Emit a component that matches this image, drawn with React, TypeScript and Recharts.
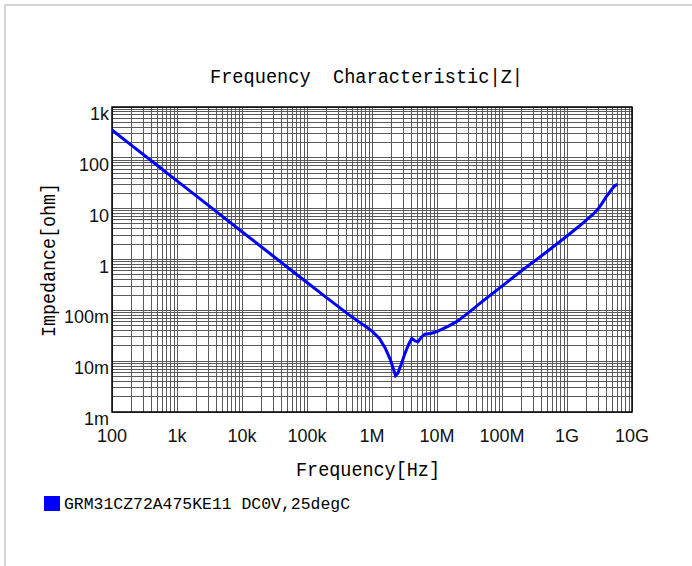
import { LineChart, Line, XAxis, YAxis, CartesianGrid, ReferenceArea } from "recharts";

// |Z| curve (Hz, ohm)
const freqHz = [
  100, 200, 500, 1e3, 2e3, 5e3, 1e4, 2e4, 5e4, 1e5, 2e5, 4e5, 6e5, 8e5, 1e6,
  1.3e6, 1.6e6, 1.9e6, 2.1e6, 2.3e6, 2.5e6, 2.8e6, 3.2e6, 3.7e6, 4.1e6, 4.6e6,
  5.1e6, 5.8e6, 6.5e6, 8e6, 1e7, 1.5e7, 2e7, 3e7, 5e7, 1e8, 2e8, 5e8, 1e9,
  1.5e9, 2e9, 2.5e9, 3e9, 3.5e9, 4e9, 4.5e9, 5e9, 5.5e9, 6e9,
];
const impedanceOhm = [
  352, 176, 70.5, 35.2, 17.6, 7.05, 3.52, 1.76, 0.705, 0.352, 0.178, 0.09,
  0.062, 0.048, 0.039, 0.028, 0.018, 0.011, 0.0075, 0.0052, 0.0058, 0.0085,
  0.014, 0.022, 0.028, 0.025, 0.024, 0.03, 0.034, 0.035, 0.038, 0.049, 0.06,
  0.088, 0.15, 0.3, 0.6, 1.45, 2.9, 4.4, 6.0, 7.7, 9.8, 13, 17, 21, 25, 28.5, 30,
];

const xDecades = [1e2, 1e3, 1e4, 1e5, 1e6, 1e7, 1e8, 1e9, 1e10];
const xLabels = ["100", "1k", "10k", "100k", "1M", "10M", "100M", "1G", "10G"];
const yDecades = [1e-3, 1e-2, 1e-1, 1, 10, 100, 1e3];
const yLabels = ["1m", "10m", "100m", "1", "10", "100", "1k"];

const seriesName = "GRM31CZ72A475KE11 DC0V,25degC";

// grid values: 1..9 x each decade
function minorTicks(decades: number[]) {
  const out: number[] = [];
  decades.forEach((d, i) => {
    if (i === decades.length - 1) {
      out.push(d);
      return;
    }
    for (let m = 1; m <= 9; m++) out.push(d * m);
  });
  return out;
}

const data = freqHz.map((f, i) => ({ f, z: impedanceOhm[i] }));

function labelFor(value: number, decades: number[], labels: string[]) {
  const idx = decades.findIndex((d) => Math.abs(Math.log10(d) - Math.log10(value)) < 1e-6);
  return idx >= 0 ? labels[idx] : null;
}

const tickFont = "'Liberation Sans', Arial, sans-serif";
const monoFont = "'Liberation Mono', 'DejaVu Sans Mono', monospace";

function XTick(props: any) {
  const { x, y, payload } = props;
  const text = labelFor(payload.value, xDecades, xLabels);
  if (!text) return <g />;
  return (
    <text x={x} y={y + 22} textAnchor="middle" fontFamily={tickFont} fontSize={18} fill="#111">
      {text}
    </text>
  );
}

function YTick(props: any) {
  const { y, payload } = props;
  const text = labelFor(payload.value, yDecades, yLabels);
  if (!text) return <g />;
  return (
    <text x={109} y={y + 13} textAnchor="end" fontFamily={tickFont} fontSize={18} fill="#111">
      {text}
    </text>
  );
}

export default function App() {
  return (
    <div
      style={{
        position: "absolute",
        left: 0,
        top: 0,
        width: 692,
        height: 566,
        overflow: "hidden",
        background: "#fff",
      }}
    >
      <style>{".recharts-cartesian-grid line { shape-rendering: crispEdges; }"}</style>
      <div
        style={{
          position: "absolute",
          left: 4,
          top: 4,
          width: 720,
          height: 600,
          border: "2px solid #d4d6d9",
        }}
      />
      <div style={{ position: "absolute", left: 0, top: 0 }}>
        <LineChart
          width={692}
          height={566}
          data={data}
          margin={{ top: 107, right: 60, bottom: 124, left: 52 }}
        >
          <CartesianGrid stroke="#5a5a5a" strokeWidth={1} fill="#fff" />
          <XAxis
            dataKey="f"
            type="number"
            scale="log"
            domain={[1e2, 1e10]}
            ticks={minorTicks(xDecades)}
            tick={<XTick />}
            tickLine={false}
            axisLine={false}
            height={30}
            allowDataOverflow
            interval={0}
          />
          <YAxis
            dataKey="z"
            type="number"
            scale="log"
            domain={[1e-3, 1e3]}
            ticks={minorTicks(yDecades)}
            tick={<YTick />}
            tickLine={false}
            axisLine={false}
            width={60}
            allowDataOverflow
            interval={0}
          />
          <ReferenceArea
            x1={1e2}
            x2={1e10}
            y1={1e-3}
            y2={1e3}
            fill="none"
            stroke="#000"
            strokeWidth={1.5}
            ifOverflow="visible"
          />
          <Line
            type="linear"
            dataKey="z"
            stroke="#0000ff"
            strokeWidth={3}
            dot={false}
            isAnimationActive={false}
          />
        </LineChart>
      </div>
      <svg
        width={692}
        height={566}
        style={{ position: "absolute", left: 0, top: 0, pointerEvents: "none" }}
      >
        <text
          x={210}
          y={83}
          fontFamily={monoFont}
          fontSize={20}
          textLength={313}
          lengthAdjust="spacingAndGlyphs"
          style={{ whiteSpace: "pre" }}
          fill="#000"
        >
          {"Frequency  Characteristic|Z|"}
        </text>
        <text
          x={296}
          y={476}
          fontFamily={monoFont}
          fontSize={20}
          textLength={144}
          lengthAdjust="spacingAndGlyphs"
          fill="#000"
        >
          Frequency[Hz]
        </text>
        <text
          transform="translate(55, 337) rotate(-90)"
          fontFamily={monoFont}
          fontSize={20}
          textLength={154}
          lengthAdjust="spacingAndGlyphs"
          fill="#000"
        >
          Impedance[ohm]
        </text>
        <rect x={44} y={496} width={16} height={15} fill="#0000ff" />
        <text
          x={64}
          y={509}
          fontFamily={monoFont}
          fontSize={16}
          textLength={286}
          lengthAdjust="spacingAndGlyphs"
          fill="#000"
        >
          {seriesName}
        </text>
      </svg>
    </div>
  );
}
